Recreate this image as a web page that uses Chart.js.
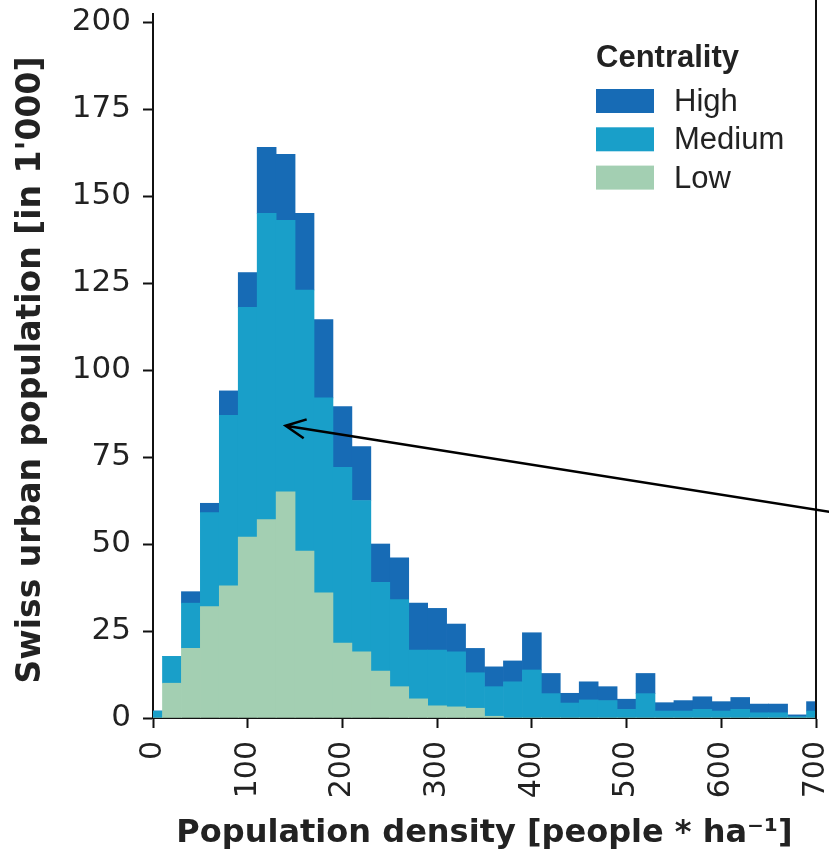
<!DOCTYPE html>
<html>
<head>
<meta charset="utf-8">
<title>Swiss urban population by density</title>
<script src="https://cdn.jsdelivr.net/npm/chart.js@4.4.1/dist/chart.umd.min.js"></script>
<style>
  html, body { margin: 0; padding: 0; background: #fff; }
  canvas { display: block; }
</style>
</head>
<body>
<canvas id="densityChart" width="829" height="859"></canvas>
<script>
// histogram bins, 20 people/ha wide, centred on these densities
const binCenters = [
  0, 20, 40, 60, 80, 100, 120, 140, 160, 180, 200, 220, 240, 260, 280, 300, 320, 340,
  360, 380, 400, 420, 440, 460, 480, 500, 520, 540, 560, 580, 600, 620, 640, 660, 680, 700
];

// population per bin, in thousands
const lowValues = [
  0, 10, 20, 32, 38, 52, 57, 65, 48, 36, 21.5, 19, 13.5, 9, 5.5, 3.5, 3.2, 2.8,
  0.5, 0, 0, 0, 0, 0, 0, 0, 0, 0, 0, 0, 0, 0, 0, 0, 0, 0
];
const mediumValues = [
  2, 7.7, 13, 27, 49, 66, 88, 78, 75, 56, 50.5, 43.5, 25.5, 25, 14, 16, 15.8, 10.2,
  8.5, 10.4, 13.8, 7, 4.3, 5.2, 5, 2.5, 7, 2, 2, 2.5, 2, 2.5, 1.5, 1.5, 0.4, 2
];
const highValues = [
  0, 0, 3.3, 2.7, 7, 10, 19, 19, 22, 22.5, 17.5, 15.5, 11, 12, 13.5, 12, 8, 7,
  5.7, 6, 10.7, 5.8, 2.8, 5.2, 4, 2.9, 5.8, 2.4, 3, 3.6, 2.7, 3.4, 2.5, 2.5, 0.5, 2.7
];

const yTickValues = [0, 25, 50, 75, 100, 125, 150, 175, 200];
const xTickValues = [0, 100, 200, 300, 400, 500, 600, 700];

const seriesNames = ["Low", "Medium", "High"];
const seriesColors = ["#a3cfb2", "#199fc9", "#176bb5"];

// arrow pointing into the peak, in data units
const arrowTip = { x: 140, y: 84 };
const arrowTail = { x: 720, y: 59 };

function toPoints(values) {
  return values.map((v, i) => ({ x: binCenters[i], y: v }));
}

// right spine, arrow and the "Centrality" legend
const frameAndNotes = {
  id: "frameAndNotes",
  afterDraw(chart) {
    const { ctx, chartArea, scales } = chart;
    ctx.save();

    ctx.strokeStyle = "#111";
    ctx.lineWidth = 2;
    ctx.beginPath();
    ctx.moveTo(chartArea.right, 0);
    ctx.lineTo(chartArea.right, chartArea.bottom);
    ctx.moveTo(chartArea.left, chartArea.top - 9);
    ctx.lineTo(chartArea.left, chartArea.top);
    ctx.stroke();

    // arrow
    const tx = scales.x.getPixelForValue(arrowTip.x);
    const ty = scales.y.getPixelForValue(arrowTip.y);
    const sx = scales.x.getPixelForValue(arrowTail.x);
    const sy = scales.y.getPixelForValue(arrowTail.y);
    const ang = Math.atan2(sy - ty, sx - tx);
    const head = 22;
    const spread = 0.45;
    ctx.strokeStyle = "#000";
    ctx.lineWidth = 2.5;
    ctx.beginPath();
    ctx.moveTo(sx, sy);
    ctx.lineTo(tx, ty);
    ctx.moveTo(tx + head * Math.cos(ang - spread), ty + head * Math.sin(ang - spread));
    ctx.lineTo(tx, ty);
    ctx.lineTo(tx + head * Math.cos(ang + spread), ty + head * Math.sin(ang + spread));
    ctx.stroke();

    // legend, top series first
    const lx = chartArea.right - 220;
    const top = chartArea.top;
    ctx.fillStyle = "#222";
    ctx.textBaseline = "alphabetic";
    ctx.font = "bold 31px 'Liberation Sans'";
    ctx.fillText("Centrality", lx, top + 45);
    ctx.font = "31px 'Liberation Sans'";
    const items = chart.data.datasets.slice().reverse();
    items.forEach((ds, i) => {
      const rowTop = top + 67 + i * 38.3;
      ctx.fillStyle = ds.backgroundColor;
      ctx.fillRect(lx, rowTop, 58, 24);
      ctx.fillStyle = "#222";
      ctx.fillText(ds.label, lx + 78, rowTop + 22);
    });

    ctx.restore();
  }
};

new Chart(document.getElementById("densityChart"), {
  type: "bar",
  data: {
    datasets: [lowValues, mediumValues, highValues].map((vals, i) => ({
      label: seriesNames[i],
      data: toPoints(vals),
      backgroundColor: seriesColors[i],
      borderWidth: 0,
      barPercentage: 1,
      categoryPercentage: 1
    }))
  },
  options: {
    responsive: false,
    animation: false,
    layout: { padding: { top: 22, right: 13, left: 0, bottom: 0 } },
    plugins: {
      legend: { display: false },
      tooltip: { enabled: false }
    },
    scales: {
      x: {
        type: "linear",
        stacked: true,
        min: 0,
        max: 700,
        offset: false,
        afterBuildTicks: (axis) => {
          axis.ticks = xTickValues.map((v) => ({ value: v }));
        },
        afterFit: (axis) => {
          axis.height = 141;
          axis.paddingLeft = 0;
          axis.paddingRight = 0;
        },
        grid: {
          display: true,
          drawOnChartArea: false,
          offset: false,
          tickLength: 10,
          tickWidth: 2,
          color: "#111"
        },
        border: { display: true, color: "#111", width: 2 },
        ticks: {
          minRotation: 90,
          maxRotation: 90,
          padding: 13,
          color: "#222",
          font: { family: "DejaVu Sans", size: 30 }
        },
        title: {
          display: true,
          text: "Population density [people * ha⁻¹]",
          color: "#222",
          font: { family: "DejaVu Sans", size: 32, weight: "bold" },
          padding: { top: 0, bottom: 6 }
        }
      },
      y: {
        stacked: true,
        min: 0,
        max: 200,
        afterBuildTicks: (axis) => {
          axis.ticks = yTickValues.map((v) => ({ value: v }));
        },
        afterFit: (axis) => {
          axis.width = 153;
          axis.paddingTop = 0;
          axis.paddingBottom = 0;
        },
        grid: {
          display: true,
          drawOnChartArea: false,
          tickLength: 10,
          tickWidth: 2,
          color: "#111"
        },
        border: { display: true, color: "#111", width: 2 },
        ticks: {
          padding: 12,
          color: "#222",
          font: { family: "DejaVu Sans", size: 31 }
        },
        title: {
          display: true,
          text: "Swiss urban population [in 1'000]",
          color: "#222",
          font: { family: "DejaVu Sans", size: 33, weight: "bold" },
          padding: { top: 12, bottom: 0 }
        }
      }
    }
  },
  plugins: [frameAndNotes]
});
</script>
</body>
</html>
